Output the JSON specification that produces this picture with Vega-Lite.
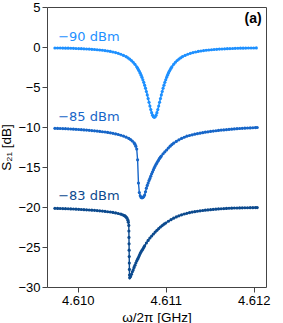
{
"$schema":"https://vega.github.io/schema/vega-lite/v6.json",
"width":219,"height":280,
"autosize":{"type":"none"},
"padding":{"left":47,"top":7,"right":17,"bottom":36},
"background":"white",
"config":{"view":{"stroke":"#444","strokeWidth":1},"axis":{"grid":false,"domain":false,"tickColor":"#444","tickSize":5,"labelFont":"Liberation Sans","labelFontSize":13,"labelColor":"#000","titleFont":"Liberation Sans","titleFontSize":13.5,"titleFontWeight":"normal","titleColor":"#000"}},
"datasets":{"curves":[
{"f":4.60974,"s":-0.12,"p":"-90"},{"f":4.60977,"s":-0.12,"p":"-90"},{"f":4.6098,"s":-0.13,"p":"-90"},{"f":4.60983,"s":-0.14,"p":"-90"},{"f":4.60986,"s":-0.15,"p":"-90"},{"f":4.60989,"s":-0.15,"p":"-90"},{"f":4.60992,"s":-0.16,"p":"-90"},{"f":4.60995,"s":-0.17,"p":"-90"},{"f":4.60998,"s":-0.19,"p":"-90"},{"f":4.61001,"s":-0.2,"p":"-90"},{"f":4.61004,"s":-0.21,"p":"-90"},{"f":4.61007,"s":-0.23,"p":"-90"},{"f":4.6101,"s":-0.25,"p":"-90"},{"f":4.61013,"s":-0.26,"p":"-90"},{"f":4.61016,"s":-0.29,"p":"-90"},{"f":4.61019,"s":-0.31,"p":"-90"},{"f":4.61022,"s":-0.34,"p":"-90"},{"f":4.61025,"s":-0.37,"p":"-90"},{"f":4.61028,"s":-0.41,"p":"-90"},{"f":4.61031,"s":-0.45,"p":"-90"},{"f":4.61034,"s":-0.5,"p":"-90"},{"f":4.61037,"s":-0.55,"p":"-90"},{"f":4.6104,"s":-0.62,"p":"-90"},{"f":4.61043,"s":-0.7,"p":"-90"},{"f":4.61046,"s":-0.79,"p":"-90"},{"f":4.61049,"s":-0.91,"p":"-90"},{"f":4.61052,"s":-1.05,"p":"-90"},{"f":4.61055,"s":-1.21,"p":"-90"},{"f":4.61057,"s":-1.35,"p":"-90"},{"f":4.61059,"s":-1.51,"p":"-90"},{"f":4.61061,"s":-1.69,"p":"-90"},{"f":4.61063,"s":-1.91,"p":"-90"},{"f":4.61065,"s":-2.17,"p":"-90"},{"f":4.61067,"s":-2.47,"p":"-90"},{"f":4.61068,"s":-2.65,"p":"-90"},{"f":4.61069,"s":-2.84,"p":"-90"},{"f":4.6107,"s":-3.04,"p":"-90"},{"f":4.61071,"s":-3.27,"p":"-90"},{"f":4.61072,"s":-3.52,"p":"-90"},{"f":4.61073,"s":-3.79,"p":"-90"},{"f":4.61074,"s":-4.09,"p":"-90"},{"f":4.61075,"s":-4.42,"p":"-90"},{"f":4.61076,"s":-4.77,"p":"-90"},{"f":4.61077,"s":-5.15,"p":"-90"},{"f":4.61078,"s":-5.56,"p":"-90"},{"f":4.61079,"s":-5.99,"p":"-90"},{"f":4.6108,"s":-6.45,"p":"-90"},{"f":4.61081,"s":-6.91,"p":"-90"},{"f":4.61082,"s":-7.37,"p":"-90"},{"f":4.61083,"s":-7.82,"p":"-90"},{"f":4.61084,"s":-8.21,"p":"-90"},{"f":4.61085,"s":-8.52,"p":"-90"},{"f":4.61086,"s":-8.72,"p":"-90"},{"f":4.61087,"s":-8.79,"p":"-90"},{"f":4.61088,"s":-8.72,"p":"-90"},{"f":4.61089,"s":-8.52,"p":"-90"},{"f":4.6109,"s":-8.21,"p":"-90"},{"f":4.61091,"s":-7.82,"p":"-90"},{"f":4.61092,"s":-7.37,"p":"-90"},{"f":4.61093,"s":-6.91,"p":"-90"},{"f":4.61094,"s":-6.45,"p":"-90"},{"f":4.61095,"s":-5.99,"p":"-90"},{"f":4.61096,"s":-5.56,"p":"-90"},{"f":4.61097,"s":-5.15,"p":"-90"},{"f":4.61098,"s":-4.77,"p":"-90"},{"f":4.61099,"s":-4.42,"p":"-90"},{"f":4.611,"s":-4.09,"p":"-90"},{"f":4.61101,"s":-3.79,"p":"-90"},{"f":4.61102,"s":-3.52,"p":"-90"},{"f":4.61103,"s":-3.27,"p":"-90"},{"f":4.61104,"s":-3.04,"p":"-90"},{"f":4.61105,"s":-2.84,"p":"-90"},{"f":4.61106,"s":-2.65,"p":"-90"},{"f":4.61107,"s":-2.47,"p":"-90"},{"f":4.61109,"s":-2.17,"p":"-90"},{"f":4.61111,"s":-1.91,"p":"-90"},{"f":4.61113,"s":-1.69,"p":"-90"},{"f":4.61115,"s":-1.51,"p":"-90"},{"f":4.61117,"s":-1.35,"p":"-90"},{"f":4.61119,"s":-1.21,"p":"-90"},{"f":4.61122,"s":-1.05,"p":"-90"},{"f":4.61125,"s":-0.91,"p":"-90"},{"f":4.61128,"s":-0.79,"p":"-90"},{"f":4.61131,"s":-0.7,"p":"-90"},{"f":4.61134,"s":-0.62,"p":"-90"},{"f":4.61137,"s":-0.55,"p":"-90"},{"f":4.6114,"s":-0.5,"p":"-90"},{"f":4.61143,"s":-0.45,"p":"-90"},{"f":4.61146,"s":-0.41,"p":"-90"},{"f":4.61149,"s":-0.37,"p":"-90"},{"f":4.61152,"s":-0.34,"p":"-90"},{"f":4.61155,"s":-0.31,"p":"-90"},{"f":4.61158,"s":-0.29,"p":"-90"},{"f":4.61161,"s":-0.26,"p":"-90"},{"f":4.61164,"s":-0.25,"p":"-90"},{"f":4.61167,"s":-0.23,"p":"-90"},{"f":4.6117,"s":-0.21,"p":"-90"},{"f":4.61173,"s":-0.2,"p":"-90"},{"f":4.61176,"s":-0.19,"p":"-90"},{"f":4.61179,"s":-0.17,"p":"-90"},{"f":4.61182,"s":-0.16,"p":"-90"},{"f":4.61185,"s":-0.15,"p":"-90"},{"f":4.61188,"s":-0.15,"p":"-90"},{"f":4.61191,"s":-0.14,"p":"-90"},{"f":4.61194,"s":-0.13,"p":"-90"},{"f":4.61197,"s":-0.12,"p":"-90"},{"f":4.612,"s":-0.12,"p":"-90"},{"f":4.61203,"s":-0.11,"p":"-90"},
{"f":4.60974,"s":-10.17,"p":"-85"},{"f":4.60977,"s":-10.18,"p":"-85"},{"f":4.6098,"s":-10.19,"p":"-85"},{"f":4.60983,"s":-10.2,"p":"-85"},{"f":4.60986,"s":-10.21,"p":"-85"},{"f":4.60989,"s":-10.23,"p":"-85"},{"f":4.60992,"s":-10.25,"p":"-85"},{"f":4.60995,"s":-10.27,"p":"-85"},{"f":4.60998,"s":-10.29,"p":"-85"},{"f":4.61001,"s":-10.31,"p":"-85"},{"f":4.61004,"s":-10.33,"p":"-85"},{"f":4.61007,"s":-10.36,"p":"-85"},{"f":4.6101,"s":-10.39,"p":"-85"},{"f":4.61013,"s":-10.42,"p":"-85"},{"f":4.61016,"s":-10.45,"p":"-85"},{"f":4.61019,"s":-10.48,"p":"-85"},{"f":4.61022,"s":-10.51,"p":"-85"},{"f":4.61025,"s":-10.55,"p":"-85"},{"f":4.61028,"s":-10.59,"p":"-85"},{"f":4.61031,"s":-10.63,"p":"-85"},{"f":4.61034,"s":-10.68,"p":"-85"},{"f":4.61037,"s":-10.73,"p":"-85"},{"f":4.6104,"s":-10.79,"p":"-85"},{"f":4.61043,"s":-10.86,"p":"-85"},{"f":4.61046,"s":-10.94,"p":"-85"},{"f":4.61049,"s":-11.03,"p":"-85"},{"f":4.61052,"s":-11.14,"p":"-85"},{"f":4.61055,"s":-11.27,"p":"-85"},{"f":4.61058,"s":-11.43,"p":"-85"},{"f":4.6106,"s":-11.57,"p":"-85"},{"f":4.61062,"s":-11.75,"p":"-85"},{"f":4.61064,"s":-11.98,"p":"-85"},{"f":4.61065,"s":-12.15,"p":"-85"},{"f":4.61066,"s":-12.4,"p":"-85"},{"f":4.61067,"s":-12.75,"p":"-85"},{"f":4.61068,"s":-14.1,"p":"-85"},{"f":4.61069,"s":-17.0,"p":"-85"},{"f":4.6107,"s":-18.2,"p":"-85"},{"f":4.61071,"s":-18.6,"p":"-85"},{"f":4.61072,"s":-18.8,"p":"-85"},{"f":4.61073,"s":-18.85,"p":"-85"},{"f":4.61074,"s":-18.8,"p":"-85"},{"f":4.61075,"s":-18.7,"p":"-85"},{"f":4.61076,"s":-18.5,"p":"-85"},{"f":4.61077,"s":-18.1,"p":"-85"},{"f":4.61078,"s":-17.65,"p":"-85"},{"f":4.61079,"s":-17.3,"p":"-85"},{"f":4.6108,"s":-17.0,"p":"-85"},{"f":4.61081,"s":-16.7,"p":"-85"},{"f":4.61082,"s":-16.45,"p":"-85"},{"f":4.61083,"s":-16.15,"p":"-85"},{"f":4.61084,"s":-15.85,"p":"-85"},{"f":4.61085,"s":-15.6,"p":"-85"},{"f":4.61086,"s":-15.33,"p":"-85"},{"f":4.61087,"s":-15.08,"p":"-85"},{"f":4.61088,"s":-14.87,"p":"-85"},{"f":4.61089,"s":-14.66,"p":"-85"},{"f":4.6109,"s":-14.47,"p":"-85"},{"f":4.61091,"s":-14.28,"p":"-85"},{"f":4.61092,"s":-14.1,"p":"-85"},{"f":4.61093,"s":-13.93,"p":"-85"},{"f":4.61094,"s":-13.77,"p":"-85"},{"f":4.61095,"s":-13.62,"p":"-85"},{"f":4.61097,"s":-13.34,"p":"-85"},{"f":4.61099,"s":-13.1,"p":"-85"},{"f":4.61101,"s":-12.88,"p":"-85"},{"f":4.61103,"s":-12.62,"p":"-85"},{"f":4.61105,"s":-12.4,"p":"-85"},{"f":4.61107,"s":-12.2,"p":"-85"},{"f":4.61109,"s":-12.02,"p":"-85"},{"f":4.61112,"s":-11.8,"p":"-85"},{"f":4.61115,"s":-11.6,"p":"-85"},{"f":4.61118,"s":-11.43,"p":"-85"},{"f":4.61121,"s":-11.28,"p":"-85"},{"f":4.61124,"s":-11.15,"p":"-85"},{"f":4.61127,"s":-11.06,"p":"-85"},{"f":4.6113,"s":-10.98,"p":"-85"},{"f":4.61133,"s":-10.9,"p":"-85"},{"f":4.61136,"s":-10.83,"p":"-85"},{"f":4.61139,"s":-10.77,"p":"-85"},{"f":4.61142,"s":-10.71,"p":"-85"},{"f":4.61145,"s":-10.65,"p":"-85"},{"f":4.61148,"s":-10.6,"p":"-85"},{"f":4.61151,"s":-10.55,"p":"-85"},{"f":4.61154,"s":-10.51,"p":"-85"},{"f":4.61157,"s":-10.47,"p":"-85"},{"f":4.6116,"s":-10.43,"p":"-85"},{"f":4.61163,"s":-10.39,"p":"-85"},{"f":4.61166,"s":-10.36,"p":"-85"},{"f":4.61169,"s":-10.33,"p":"-85"},{"f":4.61172,"s":-10.3,"p":"-85"},{"f":4.61175,"s":-10.27,"p":"-85"},{"f":4.61178,"s":-10.24,"p":"-85"},{"f":4.61181,"s":-10.21,"p":"-85"},{"f":4.61184,"s":-10.19,"p":"-85"},{"f":4.61187,"s":-10.17,"p":"-85"},{"f":4.6119,"s":-10.15,"p":"-85"},{"f":4.61193,"s":-10.13,"p":"-85"},{"f":4.61196,"s":-10.11,"p":"-85"},{"f":4.61199,"s":-10.09,"p":"-85"},{"f":4.61202,"s":-10.07,"p":"-85"},{"f":4.61204,"s":-10.06,"p":"-85"},
{"f":4.60974,"s":-20.17,"p":"-83"},{"f":4.60977,"s":-20.18,"p":"-83"},{"f":4.6098,"s":-20.19,"p":"-83"},{"f":4.60983,"s":-20.2,"p":"-83"},{"f":4.60986,"s":-20.21,"p":"-83"},{"f":4.60989,"s":-20.22,"p":"-83"},{"f":4.60992,"s":-20.24,"p":"-83"},{"f":4.60995,"s":-20.25,"p":"-83"},{"f":4.60998,"s":-20.27,"p":"-83"},{"f":4.61001,"s":-20.29,"p":"-83"},{"f":4.61004,"s":-20.31,"p":"-83"},{"f":4.61007,"s":-20.33,"p":"-83"},{"f":4.6101,"s":-20.35,"p":"-83"},{"f":4.61013,"s":-20.37,"p":"-83"},{"f":4.61016,"s":-20.4,"p":"-83"},{"f":4.61019,"s":-20.42,"p":"-83"},{"f":4.61022,"s":-20.45,"p":"-83"},{"f":4.61025,"s":-20.48,"p":"-83"},{"f":4.61028,"s":-20.51,"p":"-83"},{"f":4.61031,"s":-20.55,"p":"-83"},{"f":4.61034,"s":-20.59,"p":"-83"},{"f":4.61037,"s":-20.63,"p":"-83"},{"f":4.6104,"s":-20.68,"p":"-83"},{"f":4.61043,"s":-20.74,"p":"-83"},{"f":4.61046,"s":-20.81,"p":"-83"},{"f":4.61049,"s":-20.9,"p":"-83"},{"f":4.61051,"s":-20.98,"p":"-83"},{"f":4.61053,"s":-21.08,"p":"-83"},{"f":4.61054,"s":-21.15,"p":"-83"},{"f":4.61055,"s":-21.25,"p":"-83"},{"f":4.61056,"s":-21.4,"p":"-83"},{"f":4.61057,"s":-21.65,"p":"-83"},{"f":4.610575,"s":-21.9,"p":"-83"},{"f":4.61058,"s":-22.3,"p":"-83"},{"f":4.610581,"s":-23.0,"p":"-83"},{"f":4.610582,"s":-23.8,"p":"-83"},{"f":4.610583,"s":-24.6,"p":"-83"},{"f":4.610584,"s":-25.4,"p":"-83"},{"f":4.610585,"s":-26.2,"p":"-83"},{"f":4.610586,"s":-27.0,"p":"-83"},{"f":4.610587,"s":-27.8,"p":"-83"},{"f":4.610588,"s":-28.5,"p":"-83"},{"f":4.61059,"s":-28.85,"p":"-83"},{"f":4.6106,"s":-28.7,"p":"-83"},{"f":4.61061,"s":-28.42,"p":"-83"},{"f":4.61062,"s":-28.1,"p":"-83"},{"f":4.61063,"s":-27.86,"p":"-83"},{"f":4.61064,"s":-27.55,"p":"-83"},{"f":4.61065,"s":-27.28,"p":"-83"},{"f":4.61066,"s":-27.0,"p":"-83"},{"f":4.61067,"s":-26.74,"p":"-83"},{"f":4.61068,"s":-26.52,"p":"-83"},{"f":4.61069,"s":-26.3,"p":"-83"},{"f":4.6107,"s":-26.05,"p":"-83"},{"f":4.61071,"s":-25.8,"p":"-83"},{"f":4.61072,"s":-25.6,"p":"-83"},{"f":4.61073,"s":-25.42,"p":"-83"},{"f":4.61074,"s":-25.25,"p":"-83"},{"f":4.61075,"s":-25.05,"p":"-83"},{"f":4.61076,"s":-24.85,"p":"-83"},{"f":4.61078,"s":-24.5,"p":"-83"},{"f":4.6108,"s":-24.18,"p":"-83"},{"f":4.61082,"s":-23.88,"p":"-83"},{"f":4.61084,"s":-23.62,"p":"-83"},{"f":4.61086,"s":-23.37,"p":"-83"},{"f":4.61088,"s":-23.14,"p":"-83"},{"f":4.6109,"s":-22.92,"p":"-83"},{"f":4.61092,"s":-22.7,"p":"-83"},{"f":4.61094,"s":-22.5,"p":"-83"},{"f":4.61096,"s":-22.32,"p":"-83"},{"f":4.61098,"s":-22.15,"p":"-83"},{"f":4.611,"s":-22.0,"p":"-83"},{"f":4.61103,"s":-21.78,"p":"-83"},{"f":4.61106,"s":-21.58,"p":"-83"},{"f":4.61109,"s":-21.4,"p":"-83"},{"f":4.61112,"s":-21.24,"p":"-83"},{"f":4.61115,"s":-21.1,"p":"-83"},{"f":4.61118,"s":-20.98,"p":"-83"},{"f":4.61121,"s":-20.88,"p":"-83"},{"f":4.61124,"s":-20.79,"p":"-83"},{"f":4.61127,"s":-20.71,"p":"-83"},{"f":4.6113,"s":-20.64,"p":"-83"},{"f":4.61133,"s":-20.58,"p":"-83"},{"f":4.61136,"s":-20.53,"p":"-83"},{"f":4.61139,"s":-20.48,"p":"-83"},{"f":4.61142,"s":-20.44,"p":"-83"},{"f":4.61145,"s":-20.4,"p":"-83"},{"f":4.61148,"s":-20.36,"p":"-83"},{"f":4.61151,"s":-20.33,"p":"-83"},{"f":4.61154,"s":-20.3,"p":"-83"},{"f":4.61157,"s":-20.27,"p":"-83"},{"f":4.6116,"s":-20.24,"p":"-83"},{"f":4.61163,"s":-20.22,"p":"-83"},{"f":4.61166,"s":-20.2,"p":"-83"},{"f":4.61169,"s":-20.18,"p":"-83"},{"f":4.61172,"s":-20.16,"p":"-83"},{"f":4.61175,"s":-20.15,"p":"-83"},{"f":4.61178,"s":-20.13,"p":"-83"},{"f":4.61181,"s":-20.12,"p":"-83"},{"f":4.61184,"s":-20.11,"p":"-83"},{"f":4.61187,"s":-20.1,"p":"-83"},{"f":4.6119,"s":-20.09,"p":"-83"},{"f":4.61193,"s":-20.09,"p":"-83"},{"f":4.61196,"s":-20.08,"p":"-83"},{"f":4.61199,"s":-20.08,"p":"-83"},{"f":4.61202,"s":-20.07,"p":"-83"},{"f":4.61204,"s":-20.07,"p":"-83"}
]},
"encoding":{
 "x":{"field":"f","type":"quantitative","scale":{"domain":[4.60965,4.61214],"nice":false,"zero":false},"axis":{"values":[4.61,4.611,4.612],"format":".3f","title":"ω/2π [GHz]","labelPadding":2,"titlePadding":3}},
 "y":{"field":"s","type":"quantitative","scale":{"domain":[-30,5],"nice":false,"zero":false},"axis":{"values":[-30,-25,-20,-15,-10,-5,0,5],"title":"S₂₁ [dB]","labelPadding":2,"titlePadding":4}},
 "color":{"field":"p","type":"nominal","scale":{"domain":["-90","-85","-83"],"range":["#1E90FF","#1766C8","#0C4A8E"]},"legend":null}
},
"layer":[
 {"data":{"name":"curves"},"mark":{"type":"line","strokeWidth":1.4}},
 {"data":{"name":"curves"},"mark":{"type":"point","filled":true,"shape":"circle","size":10,"opacity":1}},
 {"data":{"values":[{"f":4.609777,"s":0.8,"t":"−90 dBm","p":"-90"},{"f":4.609777,"s":-9.2,"t":"−85 dBm","p":"-85"},{"f":4.609777,"s":-19.15,"t":"−83 dBm","p":"-83"}]},"mark":{"type":"text","align":"left","baseline":"alphabetic","font":"DejaVu Sans","fontSize":13},"encoding":{"text":{"field":"t"}}},
 {"data":{"values":[{"f":4.612091,"s":2.96,"t":"(a)"}]},"mark":{"type":"text","align":"right","baseline":"alphabetic","font":"Liberation Sans","fontSize":14,"fontWeight":"bold"},"encoding":{"text":{"field":"t"},"color":{"value":"#000"}}}
]
}
